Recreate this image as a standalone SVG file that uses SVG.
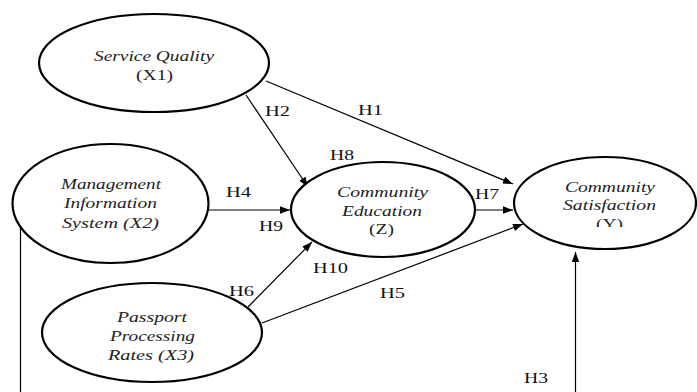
<svg xmlns="http://www.w3.org/2000/svg" width="697" height="392" viewBox="0 0 697 392">
<style>
.node ellipse{fill:#fff;stroke:#000;stroke-width:2.2}
.nt{font-family:"Liberation Serif","Times New Roman",serif;font-style:italic;font-size:15px;fill:#222}
.nt2{font-family:"Liberation Serif","Times New Roman",serif;font-size:15px;fill:#222}
.lbl{font-family:"Liberation Serif","Times New Roman",serif;font-size:15px;fill:#111}
.edge{fill:none;stroke:#000;stroke-width:1.2}
</style>
<defs>
<marker id="ah" markerUnits="userSpaceOnUse" markerWidth="11" markerHeight="8" refX="10" refY="3.75" orient="auto">
<path d="M0,0 L10,3.75 L0,7.5 z" fill="#000"/>
</marker>
<clipPath id="clipY"><rect x="590" y="214" width="40" height="13"/></clipPath>
</defs>
<rect width="697" height="392" fill="#fff"/>
<g id="connectors">
<line class="edge" x1="246" y1="95" x2="308" y2="187" marker-end="url(#ah)"/>
<line class="edge" x1="266" y1="81" x2="513" y2="184" marker-end="url(#ah)"/>
<line class="edge" x1="209" y1="210" x2="290" y2="210" marker-end="url(#ah)"/>
<line class="edge" x1="248" y1="307" x2="312" y2="242" marker-end="url(#ah)"/>
<line class="edge" x1="262" y1="323" x2="523" y2="224" marker-end="url(#ah)"/>
<line class="edge" x1="475" y1="210" x2="513" y2="210" marker-end="url(#ah)"/>
<path class="edge" d="M15,219.5 H20.5 V400 H575.5 V252" marker-end="url(#ah)"/>
</g>
<g id="labels">
<text class="lbl" x="265" y="116" textLength="25" lengthAdjust="spacingAndGlyphs">H2</text>
<text class="lbl" x="358" y="115" textLength="25" lengthAdjust="spacingAndGlyphs">H1</text>
<text class="lbl" x="330" y="160" textLength="24" lengthAdjust="spacingAndGlyphs">H8</text>
<text class="lbl" x="226" y="197" textLength="25" lengthAdjust="spacingAndGlyphs">H4</text>
<text class="lbl" x="259" y="231" textLength="24" lengthAdjust="spacingAndGlyphs">H9</text>
<text class="lbl" x="313" y="273" textLength="35" lengthAdjust="spacingAndGlyphs">H10</text>
<text class="lbl" x="229" y="296" textLength="25" lengthAdjust="spacingAndGlyphs">H6</text>
<text class="lbl" x="380" y="298" textLength="25" lengthAdjust="spacingAndGlyphs">H5</text>
<text class="lbl" x="475" y="199" textLength="24" lengthAdjust="spacingAndGlyphs">H7</text>
<text class="lbl" x="524" y="383" textLength="24" lengthAdjust="spacingAndGlyphs">H3</text>
</g>
<g id="X1" class="node">
<ellipse cx="154" cy="63" rx="115" ry="49"/>
<text class="nt" x="94" y="61" textLength="120" lengthAdjust="spacingAndGlyphs">Service Quality</text>
<text class="nt2" x="136" y="80" textLength="37" lengthAdjust="spacingAndGlyphs">(X1)</text>
</g>
<g id="X2" class="node">
<ellipse cx="110.5" cy="203.5" rx="98" ry="59.5"/>
<text class="nt" x="61" y="189" textLength="100" lengthAdjust="spacingAndGlyphs">Management</text>
<text class="nt" x="64" y="208" textLength="93" lengthAdjust="spacingAndGlyphs">Information</text>
<text class="nt" x="62" y="228" textLength="97" lengthAdjust="spacingAndGlyphs">System (X2)</text>
</g>
<g id="X3" class="node">
<ellipse cx="152" cy="332.5" rx="110" ry="49.5"/>
<text class="nt" x="117" y="322" textLength="70" lengthAdjust="spacingAndGlyphs">Passport</text>
<text class="nt" x="110" y="341" textLength="85" lengthAdjust="spacingAndGlyphs">Processing</text>
<text class="nt" x="108" y="360" textLength="86" lengthAdjust="spacingAndGlyphs">Rates (X3)</text>
</g>
<g id="Z" class="node">
<ellipse cx="383" cy="209.5" rx="92" ry="47.5"/>
<text class="nt" x="337" y="197" textLength="91" lengthAdjust="spacingAndGlyphs">Community</text>
<text class="nt" x="342" y="216" textLength="80" lengthAdjust="spacingAndGlyphs">Education</text>
<text class="nt2" x="369" y="234" textLength="25" lengthAdjust="spacingAndGlyphs">(Z)</text>
</g>
<g id="Y" class="node">
<ellipse cx="605" cy="203" rx="91" ry="46"/>
<text class="nt" x="565" y="192" textLength="90" lengthAdjust="spacingAndGlyphs">Community</text>
<text class="nt" x="563" y="210" textLength="93" lengthAdjust="spacingAndGlyphs">Satisfaction</text>
<text class="nt2" x="596" y="229" textLength="27" lengthAdjust="spacingAndGlyphs" clip-path="url(#clipY)">(Y)</text>
</g>
</svg>
